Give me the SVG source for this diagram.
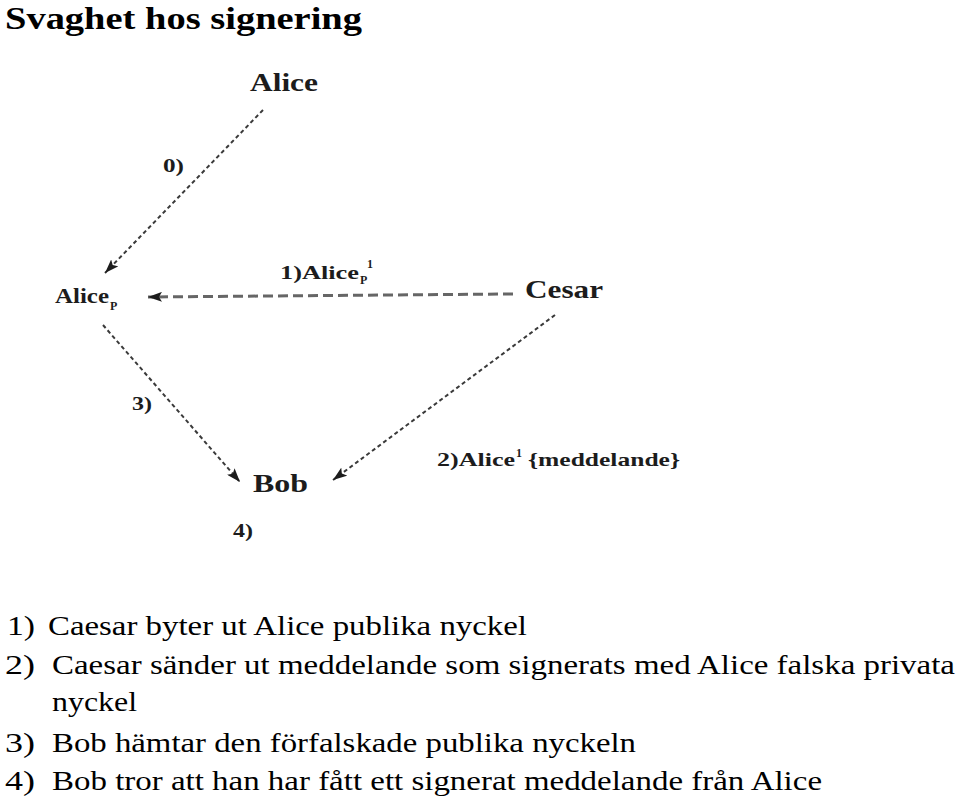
<svg xmlns="http://www.w3.org/2000/svg" width="960" height="800" viewBox="0 0 960 800">
<defs>
<style>
.title{font-weight:bold;font-size:32px;fill:#000}
.body{font-size:28px;fill:#000}
.node{font-weight:bold;font-size:26px;fill:#1c1c1c}
.lbl{font-weight:bold;font-size:19px;fill:#1c1c1c}
.sub{font-weight:bold;font-size:12px;fill:#1c1c1c}
.fine{stroke:#3a3a3a;stroke-width:2;stroke-dasharray:4 3;fill:none}
.coarse{stroke:#666;stroke-width:3;stroke-dasharray:10 5;fill:none}
</style>
<marker id="ah" viewBox="0 0 14 10" refX="14" refY="5" markerWidth="14" markerHeight="10" markerUnits="userSpaceOnUse" orient="auto">
<path d="M0,0 L14,5 L0,10 L3,5 Z" fill="#1c1c1c"/>
</marker>
</defs>
<rect width="960" height="800" fill="#fff"/>
<g font-family="Liberation Serif, serif">
<text class="title" x="5" y="29" textLength="357" lengthAdjust="spacingAndGlyphs">Svaghet hos signering</text>

<g id="connectors">
<line class="fine" x1="263" y1="110" x2="105" y2="273" marker-end="url(#ah)"/>
<line class="coarse" x1="513" y1="294" x2="148" y2="297" marker-end="url(#ah)"/>
<line class="fine" x1="555" y1="315" x2="333" y2="480" marker-end="url(#ah)"/>
<line class="fine" x1="103" y1="325" x2="240" y2="482" marker-end="url(#ah)"/>
<text class="lbl" x="163" y="172" textLength="21" lengthAdjust="spacingAndGlyphs">0)</text>
<text class="lbl" x="280" y="279" textLength="79" lengthAdjust="spacingAndGlyphs">1)Alice</text>
<text class="sub" x="360" y="284">P</text>
<text class="sub" x="367" y="268">1</text>
<text class="lbl" x="437" y="466" textLength="78" lengthAdjust="spacingAndGlyphs">2)Alice</text>
<text class="sub" x="516" y="457">1</text>
<text class="lbl" x="528" y="466" textLength="152" lengthAdjust="spacingAndGlyphs">{meddelande}</text>
<text class="lbl" x="132" y="410" textLength="20" lengthAdjust="spacingAndGlyphs">3)</text>
<text class="lbl" x="233" y="537" textLength="20" lengthAdjust="spacingAndGlyphs">4)</text>
</g>

<g id="alice"><text class="node" x="250" y="91" textLength="68" lengthAdjust="spacingAndGlyphs">Alice</text></g>
<g id="alicep"><text class="node" x="55" y="303" style="font-size:22px" textLength="54" lengthAdjust="spacingAndGlyphs">Alice</text><text class="sub" x="110" y="310">P</text></g>
<g id="cesar"><text class="node" x="525" y="298" textLength="78" lengthAdjust="spacingAndGlyphs">Cesar</text></g>
<g id="bob"><text class="node" x="253" y="492" textLength="55" lengthAdjust="spacingAndGlyphs">Bob</text></g>

<g id="notes">
<text class="body" x="7" y="635" textLength="28" lengthAdjust="spacingAndGlyphs">1)</text>
<text class="body" x="48" y="635" textLength="479" lengthAdjust="spacingAndGlyphs">Caesar byter ut Alice publika nyckel</text>
<text class="body" x="5" y="674" textLength="30" lengthAdjust="spacingAndGlyphs">2)</text>
<text class="body" x="52" y="674" textLength="903" lengthAdjust="spacingAndGlyphs">Caesar sänder ut meddelande som signerats med Alice falska privata</text>
<text class="body" x="52" y="711" textLength="85" lengthAdjust="spacingAndGlyphs">nyckel</text>
<text class="body" x="5" y="752" textLength="30" lengthAdjust="spacingAndGlyphs">3)</text>
<text class="body" x="52" y="752" textLength="584" lengthAdjust="spacingAndGlyphs">Bob hämtar den förfalskade publika nyckeln</text>
<text class="body" x="5" y="790" textLength="30" lengthAdjust="spacingAndGlyphs">4)</text>
<text class="body" x="52" y="790" textLength="770" lengthAdjust="spacingAndGlyphs">Bob tror att han har fått ett signerat meddelande från Alice</text>
</g>
</g>
</svg>
